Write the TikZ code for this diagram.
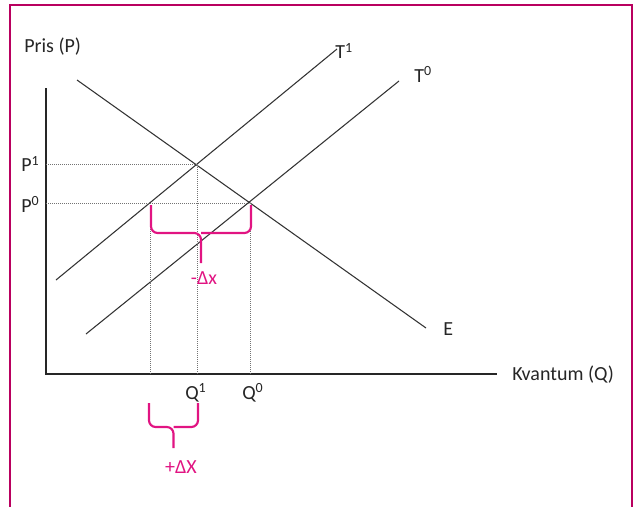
\documentclass[tikz,border=0pt]{standalone}
\usepackage{fontspec}
\setmainfont{Carlito}
\definecolor{framec}{RGB}{185,0,95}
\definecolor{bracec}{RGB}{225,20,130}
\begin{document}
\begin{tikzpicture}[x=0.75pt,y=-0.75pt,
  lbl/.style={inner sep=0pt,font=\fontsize{15}{18}\selectfont,text=black!85},
  mlbl/.style={inner sep=0pt,font=\fontsize{15}{18}\selectfont,text=bracec},
  curve/.style={line width=0.8pt,black!80},
  axis/.style={line width=0.9pt,black!85},
  guide/.style={line width=0.6pt,black!55,dash pattern=on 0.75pt off 0.75pt},
  bracepath/.style={line width=1.6pt,bracec,rounded corners=5pt},
  framepath/.style={line width=1.5pt,framec}]
\useasboundingbox (0,0) rectangle (633,507);
% frame
\coordinate (fbl) at (10,510);
\coordinate (ftl) at (10,5);
\coordinate (ftr) at (632,5);
\coordinate (fbr) at (632,510);
\draw[framepath] (fbl) -- (ftl) -- (ftr) -- (fbr);
% axes
\coordinate (O) at (46,374);
\coordinate (ytop) at (46,88);
\coordinate (xend) at (497,374);
\draw[axis] (ytop) -- (O) -- (xend);
% curves
\coordinate (e1) at (77,80);
\coordinate (e2) at (426,328);
\coordinate (ta1) at (56,280);
\coordinate (tb1) at (337,49);
\coordinate (ta0) at (86,334);
\coordinate (tb0) at (399,81);
\draw[curve] (e1) -- (e2);
\draw[curve] (ta1) -- (tb1);
\draw[curve] (ta0) -- (tb0);
% intersections
\coordinate (A) at (197,164);
\coordinate (B) at (250,203);
\coordinate (C) at (150,203);
\coordinate (yP1) at (46,164);
\coordinate (yP0) at (46,203);
\coordinate (xQ1) at (197,374);
\coordinate (xQ0) at (250,374);
\coordinate (xC) at (150,374);
\draw[guide] (yP1) -- (A) -- (xQ1);
\draw[guide] (yP0) -- (B) -- (xQ0);
\draw[guide] (C) -- (xC);
% labels
\node[lbl,anchor=west] (pris) at (24,47) {Pris (P)};
\node[lbl,anchor=west] (kv) at (512,375) {Kvantum (Q)};
\node[lbl,anchor=west] (T1) at (335,51) {T\textsuperscript{1}};
\node[lbl,anchor=west] (T0) at (414,74) {T\textsuperscript{0}};
\node[lbl,anchor=west] (E) at (443,329) {E};
\node[lbl,anchor=west] (P1) at (21,164) {P\textsuperscript{1}};
\node[lbl,anchor=west] (P0) at (21,204) {P\textsuperscript{0}};
\node[lbl,anchor=west] (Q1) at (185,393) {Q\textsuperscript{1}};
\node[lbl,anchor=west] (Q0) at (242,393) {Q\textsuperscript{0}};
% upper brace
\coordinate (ub1) at (151,205);
\coordinate (ub2) at (251,205);
\coordinate (ubm) at (201,233);
\coordinate (ubt) at (201,263);
\draw[bracepath] (ub1) |- (ubm) -- (ubt);
\draw[bracepath] (ub2) |- (ubm);
\node[mlbl] (dxm) at (204,278) {-Δx};
% lower brace
\coordinate (lb1) at (149,403);
\coordinate (lb2) at (198,403);
\coordinate (lbm) at (173.5,427);
\coordinate (lbt) at (173.5,448);
\draw[bracepath] (lb1) |- (lbm) -- (lbt);
\draw[bracepath] (lb2) |- (lbm);
\node[mlbl] (dxp) at (181,467) {+ΔX};
\end{tikzpicture}
\end{document}
